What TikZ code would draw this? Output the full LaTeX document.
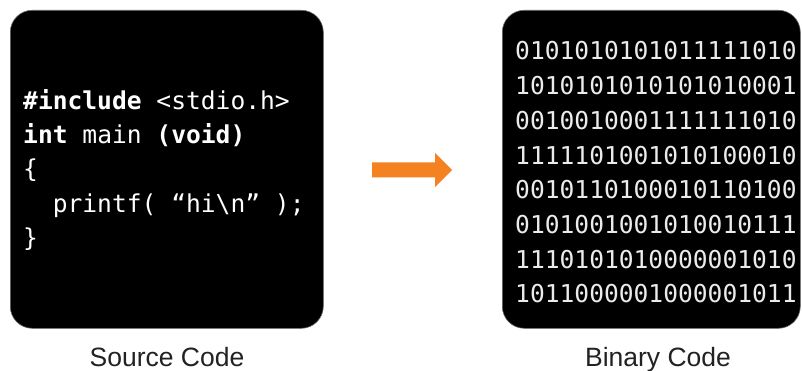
\documentclass[tikz,border=0pt]{standalone}
\usepackage{fontspec}
\setmainfont{Liberation Sans}
\newfontfamily\codefont{DejaVu Sans Mono}
\definecolor{arroworange}{RGB}{245,130,32}
\definecolor{labelgray}{RGB}{34,34,34}
\begin{document}
\begin{tikzpicture}[x=1pt,y=-1pt,
  panel/.style={fill=black,draw=black!60,line width=0.6pt,rounded corners=22pt},
  codeline/.style={anchor=base west,inner sep=0pt,text=white,font=\codefont\fontsize{24.6}{30}\selectfont},
  binline/.style={anchor=base west,inner sep=0pt,text=white!92!black,font=\codefont\fontsize{24.6}{30}\selectfont},
  caption/.style={anchor=base,inner sep=0pt,text=labelgray,font=\fontsize{26.5}{30}\selectfont},
  bigarrow/.style={fill=arroworange,draw=none}]
\useasboundingbox (0,0) rectangle (802,371);
\fill[white] (0,0) rectangle (802,371);
% panels
\node[panel,minimum width=313pt,minimum height=318pt,anchor=north west] (src) at (10,10) {};
\node[panel,minimum width=298pt,minimum height=318pt,anchor=north west] (bin) at (502,10) {};
% source code
\node[codeline] (c1) at (23,110) {\textbf{\#include} <stdio.h>};
\node[codeline] (c2) at (23,144) {\textbf{int} main \textbf{(void)}};
\node[codeline] (c3) at (23,178) {\{};
\node[codeline] (c4) at (23,212) {\ \ printf( “hi\textbackslash n” );};
\node[codeline] (c5) at (23,246) {\}};
% binary code
\node[binline] (b1) at (515,60.0) {0101010101011111010};
\node[binline] (b2) at (515,94.7) {1010101010101010001};
\node[binline] (b3) at (515,129.4) {0010010001111111010};
\node[binline] (b4) at (515,164.1) {1111101001010100010};
\node[binline] (b5) at (515,198.8) {0010110100010110100};
\node[binline] (b6) at (515,233.5) {0101001001010010111};
\node[binline] (b7) at (515,268.2) {1110101010000001010};
\node[binline] (b8) at (515,302.9) {1011000001000001011};
% arrow
\coordinate (a0) at (372,170);
\fill[bigarrow] (a0) ++(0,-7.5) -- ++(63,0) -- ++(0,-9.5) -- ++(17,17) -- ++(-17,17) -- ++(0,-9.5) -- ++(-63,0) -- cycle;
% captions
\node[caption] (lsrc) at (167,366) {Source Code};
\node[caption] (lbin) at (658,366) {Binary Code};
\end{tikzpicture}
\end{document}
